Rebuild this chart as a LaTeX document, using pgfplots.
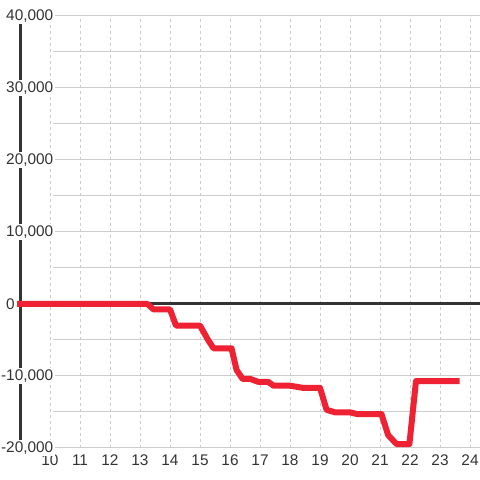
\documentclass[border=0pt]{standalone}
\usepackage{pgfplots}
\pgfplotsset{compat=1.18}
\usepackage{fontspec}
\setmainfont{Liberation Sans}
\definecolor{ink}{HTML}{333333}
\definecolor{gridgray}{HTML}{CCCCCC}
\definecolor{lossred}{HTML}{EE2233}
\begin{document}
\begin{tikzpicture}
\begin{axis}[
    set layers=standard,
    width=480pt, height=480pt,
    scale only axis,
    xmin=8.3333, xmax=24.3333,
    ymin=-24444, ymax=42222,
    axis line style={draw=none},
    tick style={draw=none},
    xtick={10,11,...,24},
    ytick={-20000,-10000,0,10000,20000,30000,40000},
    yticklabels={{\llap{-}20,000}, {\llap{-}10,000}, {0}, {10,000}, {20,000}, {30,000}, {40,000}},
    /pgf/number format/assume math mode=true,
    ticklabel style={font=\fontsize{15.4}{17}\selectfont, text=ink},
    xticklabel style={anchor=center, yshift=19.5pt},
    yticklabel style={anchor=west, xshift=4pt, fill=white, inner sep=2pt},
    clip=false,
]
% grid
\begin{pgfonlayer}{axis grid}
\pgfplotsinvokeforeach{-20000,-15000,-10000,-5000,0,5000,10000,15000,20000,25000,30000,35000,40000}{
    \draw[gridgray, line width=1pt] (axis cs:10.1,#1) -- (axis cs:24.3333,#1);
}
\pgfplotsinvokeforeach{10,11,12,13,14,15,16,17,18,19,20,21,22,23,24}{
    \draw[gridgray, line width=1pt, dash pattern=on 3pt off 3pt] (axis cs:#1,-20000) -- (axis cs:#1,40000);
}
\end{pgfonlayer}
\begin{pgfonlayer}{axis lines}
\draw[ink, line width=3pt] (axis cs:9,-20000) -- (axis cs:9,40000);
\draw[ink, line width=3pt] (axis cs:9,0) -- (axis cs:24.3333,0);
\end{pgfonlayer}

\addplot[lossred, line width=6pt, line join=round, line cap=rect, mark=none] coordinates {
    (9,0) (13.25,0) (13.45,-750) (14.0,-750) (14.2,-3000) (15.0,-3000)
    (15.27,-5000) (15.45,-6150) (16.05,-6150) (16.22,-9170) (16.42,-10400)
    (16.67,-10400) (16.93,-10800) (17.27,-10800) (17.45,-11350) (18.0,-11350)
    (18.44,-11650) (19.0,-11650) (19.22,-14700) (19.5,-15050) (20.0,-15050)
    (20.25,-15300) (21.05,-15300) (21.27,-18200) (21.55,-19450) (21.98,-19450)
    (22.2,-10700) (23.55,-10700)
};
\end{axis}
\pgfresetboundingbox
\path[use as bounding box] (current axis.south west) rectangle (current axis.north east);
\end{tikzpicture}
\end{document}
